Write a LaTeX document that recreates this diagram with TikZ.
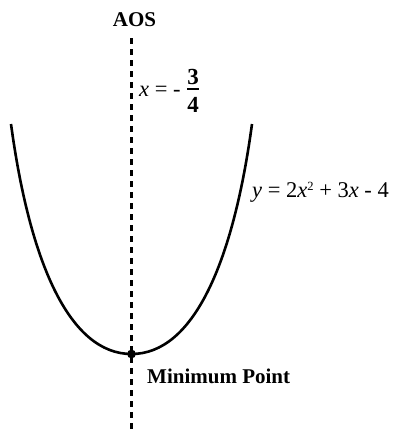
\documentclass[tikz,border=0pt]{standalone}
\usepackage{fontspec}
\setmainfont{Liberation Serif}
\begin{document}
\begin{tikzpicture}[x=1pt,y=-1pt,
  axisline/.style={line width=2.4pt,dash pattern=on 6pt off 5pt},
  curve/.style={line width=2.6pt},
  lbl/.style={inner sep=0pt,font=\fontsize{22.5}{26}\selectfont},
  digit/.style={inner sep=0pt,font=\fontsize{23}{26}\selectfont\bfseries},
  boldlbl/.style={inner sep=0pt,font=\fontsize{21}{25}\selectfont\bfseries}]
\useasboundingbox (0,0) rectangle (395,434);
% axis of symmetry
\coordinate (axtop) at (131.5,38);
\coordinate (axbot) at (131.5,434);
\draw[axisline] (axtop) -- (axbot);
% parabola
\coordinate (ltop) at (11,124);
\coordinate (vtx) at (131.5,354);
\coordinate (rtop) at (252,124);
\draw[curve] (ltop) .. controls (30,264) and (70,354) .. (vtx)
  .. controls (193,354) and (233,264) .. (rtop);
\fill (vtx) circle (4.4);
% labels
\node[boldlbl,anchor=base] (aos) at (134.5,26) {AOS};
\node[lbl,anchor=base west] (eqx) at (139,96) {\textit{x} = -};
\node[digit,anchor=base] (num) at (193,84) {3};
\node[digit,anchor=base] (den) at (193,112) {4};
\coordinate (barl) at (187,89);
\coordinate (barr) at (199,89);
\draw[line width=1.3pt] (barl) -- (barr);
\node[lbl,anchor=base west] (eqy) at (252,197) {\textit{y} = 2\textit{x}\raisebox{7pt}{\fontsize{12.5}{14}\selectfont 2} + 3\textit{x} - 4};
\node[boldlbl,anchor=base west] (minpt) at (147,383) {Minimum Point};
\end{tikzpicture}
\end{document}
